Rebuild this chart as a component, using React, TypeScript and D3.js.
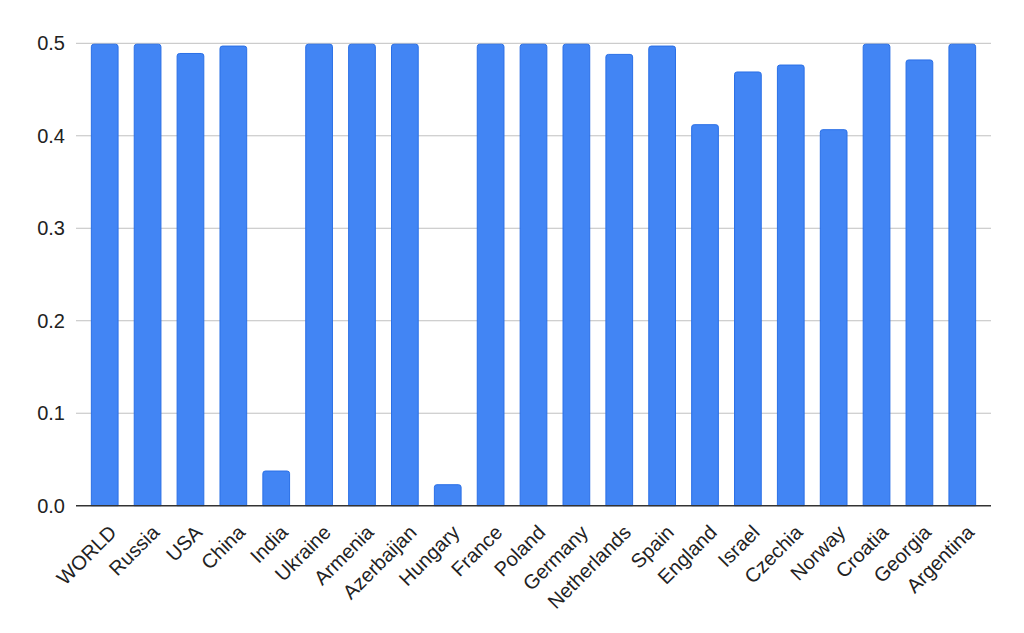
import { useEffect, useRef } from 'react';
import * as d3 from 'd3';

const countries = [
    'WORLD', 'Russia', 'USA', 'China', 'India', 'Ukraine', 'Armenia', 'Azerbaijan',
    'Hungary', 'France', 'Poland', 'Germany', 'Netherlands', 'Spain', 'England',
    'Israel', 'Czechia', 'Norway', 'Croatia', 'Georgia', 'Argentina',
];

const values = [
    0.499, 0.499, 0.489, 0.497, 0.0375, 0.499, 0.499, 0.499,
    0.0227, 0.499, 0.499, 0.499, 0.488, 0.497, 0.412,
    0.469, 0.4765, 0.4066, 0.499, 0.482, 0.499,
];

const yTicks = [0, 0.1, 0.2, 0.3, 0.4, 0.5];

const App = () => {
    const svgRef = useRef<SVGSVGElement>(null);

    useEffect(() => {
        if (!svgRef.current) return;
        d3.select(svgRef.current).selectAll('*').remove();

        const W = 1024;
        const H = 633;
        const left = 76;
        const right = 991;
        const top = 43.3;
        const bottom = 505.7;
        const font = 'Liberation Sans, Arial, sans-serif';

        const svg = d3.select(svgRef.current)
            .attr('width', W)
            .attr('height', H);

        const x = d3.scaleBand<string>()
            .domain(countries)
            .range([left, right])
            .paddingInner(0.377)
            .paddingOuter(0.358);

        const y = d3.scaleLinear()
            .domain([0, 0.5])
            .range([bottom, top]);

        // grid lines
        svg.append('g')
            .selectAll('line')
            .data(yTicks.filter(t => t > 0))
            .join('line')
            .attr('x1', left)
            .attr('x2', right)
            .attr('y1', d => y(d))
            .attr('y2', d => y(d))
            .attr('stroke', '#c0c0c0')
            .attr('stroke-width', 1);

        // y tick labels
        svg.append('g')
            .selectAll('text')
            .data(yTicks)
            .join('text')
            .attr('x', 65)
            .attr('y', d => y(d))
            .attr('dy', '0.35em')
            .attr('text-anchor', 'end')
            .attr('font-family', font)
            .attr('font-size', 20)
            .attr('fill', '#222')
            .text(d => d.toFixed(1));

        // bars with rounded top corners
        const r = 2.5;
        const bw = x.bandwidth();
        svg.append('g')
            .selectAll('path')
            .data(countries)
            .join('path')
            .attr('d', (d, i) => {
                const x0 = x(d)!;
                const y0 = y(values[i]);
                const x1 = x0 + bw;
                return `M${x0},${bottom}V${y0 + r}Q${x0},${y0} ${x0 + r},${y0}H${x1 - r}Q${x1},${y0} ${x1},${y0 + r}V${bottom}Z`;
            })
            .attr('fill', '#4285f4')
            .attr('stroke', '#2a6fe6')
            .attr('stroke-width', 1);

        // baseline
        svg.append('line')
            .attr('x1', left)
            .attr('x2', right)
            .attr('y1', bottom)
            .attr('y2', bottom)
            .attr('stroke', '#333')
            .attr('stroke-width', 1.5);

        // x labels
        svg.append('g')
            .selectAll('text')
            .data(countries)
            .join('text')
            .attr('transform', d => `translate(${x(d)! + bw / 2 + 13},${bottom + 28}) rotate(-45)`)
            .attr('text-anchor', 'end')
            .attr('font-family', font)
            .attr('font-size', 20)
            .attr('fill', '#222')
            .text(d => d);
    }, []);

    return (
        <div style={{ position: 'absolute', left: 0, top: 0 }}>
            <svg ref={svgRef} style={{ display: 'block', background: '#fff' }}></svg>
        </div>
    );
};

export default App;
